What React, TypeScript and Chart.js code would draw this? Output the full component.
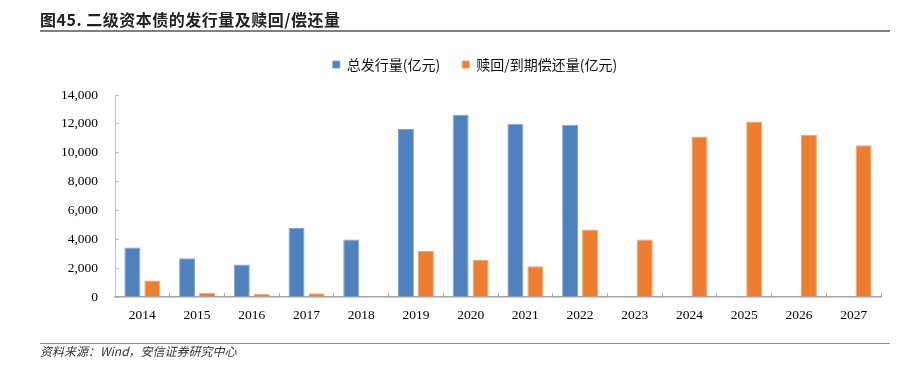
import React, { useEffect, useRef } from "react";
import { Chart, registerables } from "chart.js";

Chart.register(...registerables);

const years = ["2014", "2015", "2016", "2017", "2018", "2019", "2020", "2021", "2022", "2023", "2024", "2025", "2026", "2027"];
const issuance: (number | null)[] = [3430, 2690, 2250, 4790, 3980, 11640, 12630, 12010, 11940, null, null, null, null, null];
const redemption: (number | null)[] = [1140, 300, 230, 260, 20, 3190, 2570, 2130, 4680, 3980, 11130, 12170, 11240, 10510];
const seriesNames = ["总发行量(亿元)", "赎回/到期偿还量(亿元)"];
const titleText = "图45. 二级资本债的发行量及赎回/偿还量";
const sourceText = "资料来源：Wind，安信证券研究中心";

const axisFont = { family: "'Liberation Serif', 'Times New Roman', serif", size: 13.5 };

export default function App() {
  const ref = useRef<HTMLCanvasElement | null>(null);

  useEffect(() => {
    if (!ref.current) return;
    const chart = new Chart(ref.current, {
      type: "bar",
      data: {
        labels: years,
        datasets: [
          {
            label: seriesNames[0],
            data: issuance,
            backgroundColor: "#4f81bd",
            borderColor: "#7fa3d3",
            borderWidth: 1,
            categoryPercentage: 0.73,
            barPercentage: 0.8,
          },
          {
            label: seriesNames[1],
            data: redemption,
            backgroundColor: "#ed7d31",
            borderColor: "#f3a36c",
            borderWidth: 1,
            categoryPercentage: 0.73,
            barPercentage: 0.8,
          },
        ],
      },
      options: {
        animation: false,
        responsive: false,
        maintainAspectRatio: false,
        layout: { padding: { left: 69, right: 31, top: 35.5, bottom: 48 } },
        plugins: {
          tooltip: { enabled: false },
          legend: {
            position: "top",
            weight: 2000,
            labels: {
              boxWidth: 7,
              boxHeight: 7,
              padding: 22,
              color: "#111",
              font: { family: "'Noto Sans CJK SC', sans-serif", size: 14 },
            },
          },
          subtitle: {
            display: true,
            text: " ",
            weight: 500,
            position: "top",
            font: { size: 1, lineHeight: 1 },
            padding: { top: 0, bottom: 12.5 },
          },
        },
        scales: {
          x: {
            offset: true,
            grid: {
              display: true,
              offset: true,
              drawOnChartArea: false,
              drawTicks: true,
              tickLength: -4,
              color: "#a6a6a6",
            },
            border: { display: true, color: "#a6a6a6", width: 1.5 },
            ticks: { color: "#000", font: axisFont, padding: 14, maxRotation: 0 },
            afterFit: (scale: any) => {
              scale.height = 30;
            },
          },
          y: {
            min: 0,
            max: 14000,
            grid: {
              display: true,
              drawOnChartArea: false,
              drawTicks: true,
              tickLength: -4,
              color: "#bfbfbf",
            },
            border: { display: true, color: "#bfbfbf", width: 1 },
            ticks: {
              stepSize: 2000,
              color: "#000",
              font: axisFont,
              padding: 21,
              callback: (v: any) => Number(v).toLocaleString("en-US"),
            },
            afterFit: (scale: any) => {
              scale.width = 46;
              scale._computeLabelArea = () => undefined;
            },
          },
        },
      },
    });
    return () => chart.destroy();
  }, []);

  return (
    <div style={{ position: "absolute", left: 0, top: 0, width: 912, height: 375, background: "#fff", overflow: "hidden" }}>
      <canvas ref={ref} width={912} height={375} style={{ position: "absolute", left: 0, top: 0, width: 912, height: 375 }} />
      <div
        style={{
          position: "absolute",
          left: 40,
          top: 9,
          fontFamily: "'Noto Sans CJK SC', sans-serif",
          fontWeight: 700,
          fontSize: 16,
          letterSpacing: 0.5,
          lineHeight: "20px",
          color: "#222",
          whiteSpace: "nowrap",
        }}
      >
        {titleText}
      </div>
      <div style={{ position: "absolute", left: 40, top: 29.5, width: 850, height: 2, background: "#808080" }} />
      <div style={{ position: "absolute", left: 40, top: 342.5, width: 850, height: 1.5, background: "#909090" }} />
      <div
        style={{
          position: "absolute",
          left: 40,
          top: 343,
          fontFamily: "'Noto Sans CJK SC', sans-serif",
          fontStyle: "italic",
          fontSize: 12,
          lineHeight: "16px",
          color: "#333",
          whiteSpace: "nowrap",
        }}
      >
        {sourceText}
      </div>
    </div>
  );
}
